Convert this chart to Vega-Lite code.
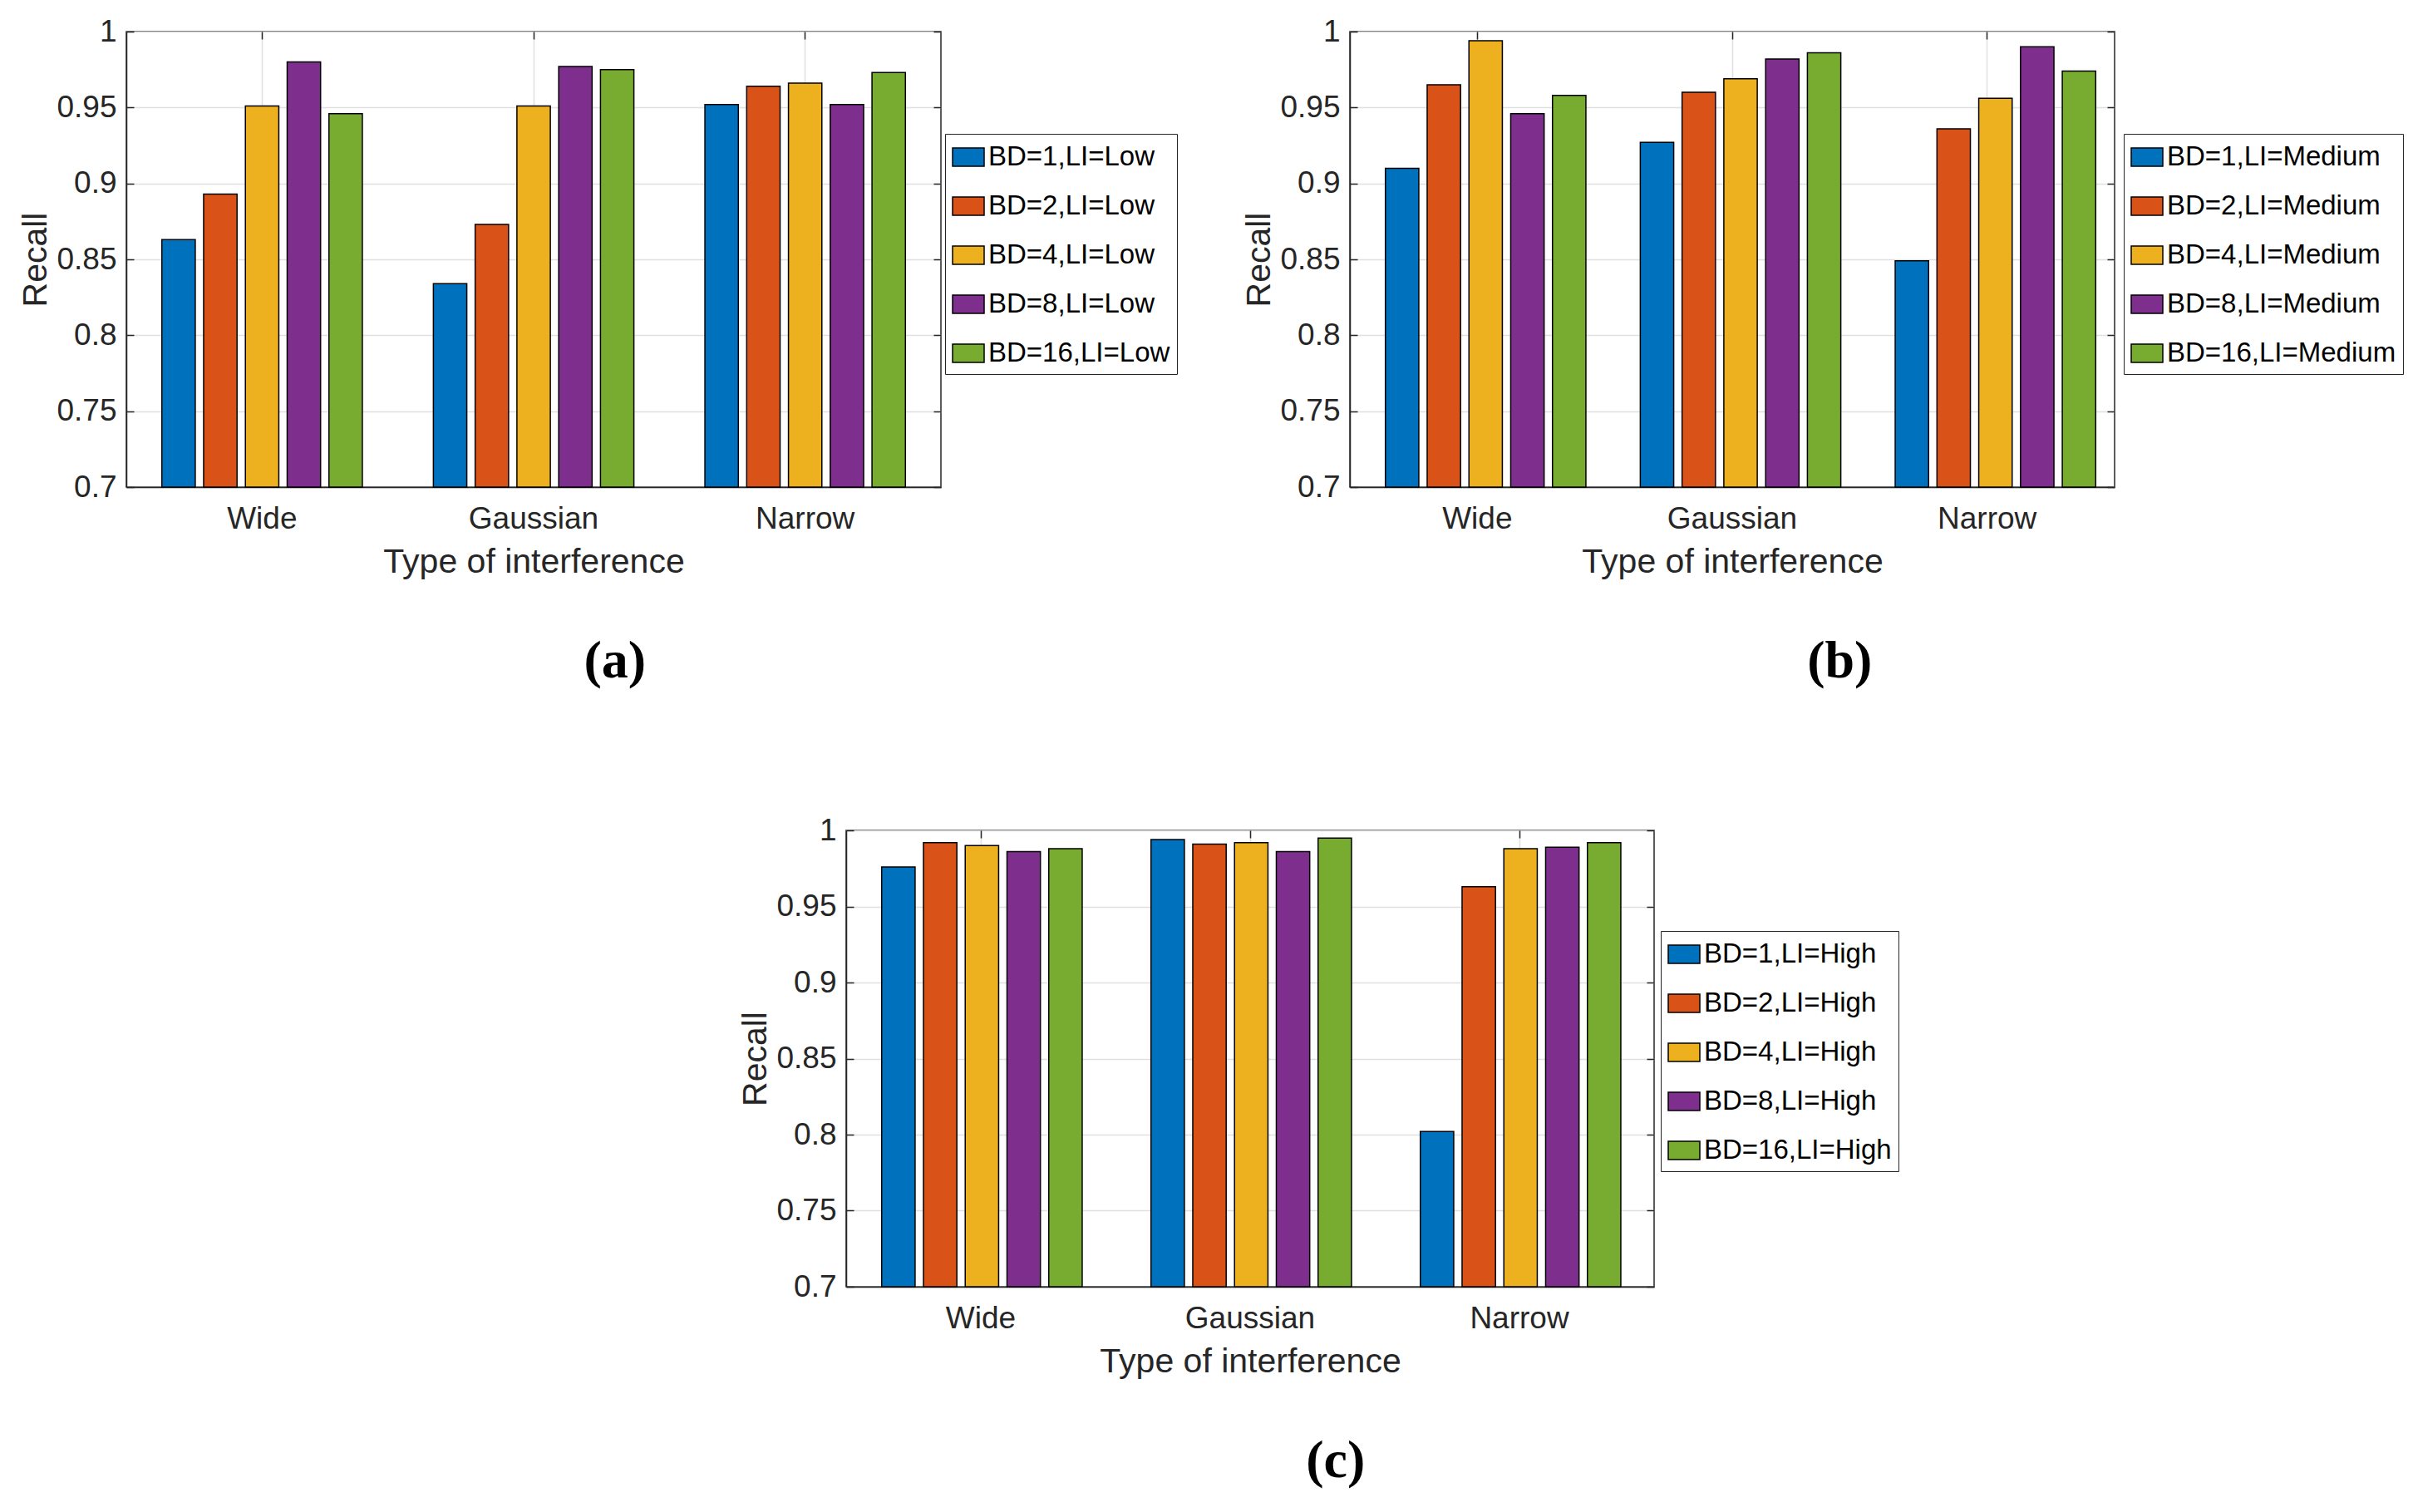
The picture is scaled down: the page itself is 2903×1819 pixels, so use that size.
{
  "$schema": "https://vega.github.io/schema/vega-lite/v6.json",
  "description": "Recall by type of interference for three interference levels (a) Low, (b) Medium, (c) High.",
  "background": "white",
  "padding": {"left": 22, "top": 18, "right": 0, "bottom": 0},
  "datasets": {
    "recall": [
      {"panel": "a", "type": "Wide", "bd": 1, "series": "BD=1,LI=Low", "recall": 0.863},
      {"panel": "a", "type": "Wide", "bd": 2, "series": "BD=2,LI=Low", "recall": 0.893},
      {"panel": "a", "type": "Wide", "bd": 4, "series": "BD=4,LI=Low", "recall": 0.951},
      {"panel": "a", "type": "Wide", "bd": 8, "series": "BD=8,LI=Low", "recall": 0.980},
      {"panel": "a", "type": "Wide", "bd": 16, "series": "BD=16,LI=Low", "recall": 0.946},
      {"panel": "a", "type": "Gaussian", "bd": 1, "series": "BD=1,LI=Low", "recall": 0.834},
      {"panel": "a", "type": "Gaussian", "bd": 2, "series": "BD=2,LI=Low", "recall": 0.873},
      {"panel": "a", "type": "Gaussian", "bd": 4, "series": "BD=4,LI=Low", "recall": 0.951},
      {"panel": "a", "type": "Gaussian", "bd": 8, "series": "BD=8,LI=Low", "recall": 0.977},
      {"panel": "a", "type": "Gaussian", "bd": 16, "series": "BD=16,LI=Low", "recall": 0.975},
      {"panel": "a", "type": "Narrow", "bd": 1, "series": "BD=1,LI=Low", "recall": 0.952},
      {"panel": "a", "type": "Narrow", "bd": 2, "series": "BD=2,LI=Low", "recall": 0.964},
      {"panel": "a", "type": "Narrow", "bd": 4, "series": "BD=4,LI=Low", "recall": 0.966},
      {"panel": "a", "type": "Narrow", "bd": 8, "series": "BD=8,LI=Low", "recall": 0.952},
      {"panel": "a", "type": "Narrow", "bd": 16, "series": "BD=16,LI=Low", "recall": 0.973},
      {"panel": "b", "type": "Wide", "bd": 1, "series": "BD=1,LI=Medium", "recall": 0.910},
      {"panel": "b", "type": "Wide", "bd": 2, "series": "BD=2,LI=Medium", "recall": 0.965},
      {"panel": "b", "type": "Wide", "bd": 4, "series": "BD=4,LI=Medium", "recall": 0.994},
      {"panel": "b", "type": "Wide", "bd": 8, "series": "BD=8,LI=Medium", "recall": 0.946},
      {"panel": "b", "type": "Wide", "bd": 16, "series": "BD=16,LI=Medium", "recall": 0.958},
      {"panel": "b", "type": "Gaussian", "bd": 1, "series": "BD=1,LI=Medium", "recall": 0.927},
      {"panel": "b", "type": "Gaussian", "bd": 2, "series": "BD=2,LI=Medium", "recall": 0.960},
      {"panel": "b", "type": "Gaussian", "bd": 4, "series": "BD=4,LI=Medium", "recall": 0.969},
      {"panel": "b", "type": "Gaussian", "bd": 8, "series": "BD=8,LI=Medium", "recall": 0.982},
      {"panel": "b", "type": "Gaussian", "bd": 16, "series": "BD=16,LI=Medium", "recall": 0.986},
      {"panel": "b", "type": "Narrow", "bd": 1, "series": "BD=1,LI=Medium", "recall": 0.849},
      {"panel": "b", "type": "Narrow", "bd": 2, "series": "BD=2,LI=Medium", "recall": 0.936},
      {"panel": "b", "type": "Narrow", "bd": 4, "series": "BD=4,LI=Medium", "recall": 0.956},
      {"panel": "b", "type": "Narrow", "bd": 8, "series": "BD=8,LI=Medium", "recall": 0.990},
      {"panel": "b", "type": "Narrow", "bd": 16, "series": "BD=16,LI=Medium", "recall": 0.974},
      {"panel": "c", "type": "Wide", "bd": 1, "series": "BD=1,LI=High", "recall": 0.976},
      {"panel": "c", "type": "Wide", "bd": 2, "series": "BD=2,LI=High", "recall": 0.992},
      {"panel": "c", "type": "Wide", "bd": 4, "series": "BD=4,LI=High", "recall": 0.990},
      {"panel": "c", "type": "Wide", "bd": 8, "series": "BD=8,LI=High", "recall": 0.986},
      {"panel": "c", "type": "Wide", "bd": 16, "series": "BD=16,LI=High", "recall": 0.988},
      {"panel": "c", "type": "Gaussian", "bd": 1, "series": "BD=1,LI=High", "recall": 0.994},
      {"panel": "c", "type": "Gaussian", "bd": 2, "series": "BD=2,LI=High", "recall": 0.991},
      {"panel": "c", "type": "Gaussian", "bd": 4, "series": "BD=4,LI=High", "recall": 0.992},
      {"panel": "c", "type": "Gaussian", "bd": 8, "series": "BD=8,LI=High", "recall": 0.986},
      {"panel": "c", "type": "Gaussian", "bd": 16, "series": "BD=16,LI=High", "recall": 0.995},
      {"panel": "c", "type": "Narrow", "bd": 1, "series": "BD=1,LI=High", "recall": 0.802},
      {"panel": "c", "type": "Narrow", "bd": 2, "series": "BD=2,LI=High", "recall": 0.963},
      {"panel": "c", "type": "Narrow", "bd": 4, "series": "BD=4,LI=High", "recall": 0.988},
      {"panel": "c", "type": "Narrow", "bd": 8, "series": "BD=8,LI=High", "recall": 0.989},
      {"panel": "c", "type": "Narrow", "bd": 16, "series": "BD=16,LI=High", "recall": 0.992}
    ]
  },
  "spacing": 150,
  "resolve": {"scale": {"color": "independent"}, "legend": {"color": "independent"}},
  "vconcat": [
    {
      "spacing": 76,
      "resolve": {"scale": {"color": "independent"}, "legend": {"color": "independent"}},
      "hconcat": [
        {
          "width": 980,
          "height": 548,
          "data": {"name": "recall"},
          "transform": [{"filter": "datum.panel == 'a'"}],
          "title": {"text": "(a)"},
          "layer": [
            {
              "mark": {"type": "bar", "stroke": "#000", "strokeWidth": 1.5},
              "encoding": {
                "x": {"field": "type", "type": "nominal", "sort": ["Wide", "Gaussian", "Narrow"], "scale": {"paddingInner": 0, "paddingOuter": 0}, "title": "Type of interference"},
                "xOffset": {"field": "bd", "type": "ordinal", "scale": {"paddingInner": 0.2, "paddingOuter": 0.85}},
                "y": {"field": "recall", "type": "quantitative", "scale": {"domain": [0.7, 1], "zero": false, "nice": false}, "title": "Recall", "axis": {"values": [0.7, 0.75, 0.8, 0.85, 0.9, 0.95, 1], "format": "~g"}},
                "y2": {"datum": 0.7},
                "color": {"field": "series", "type": "nominal", "title": null,
                  "scale": {"domain": ["BD=1,LI=Low", "BD=2,LI=Low", "BD=4,LI=Low", "BD=8,LI=Low", "BD=16,LI=Low"], "range": ["#0072BD", "#D95319", "#EDB120", "#7E2F8E", "#77AC30"]},
                  "legend": {"legendX": 985, "legendY": 123}}
              }
            },
            {
              "mark": {"type": "bar", "opacity": 0},
              "encoding": {
                "x": {"field": "type", "type": "nominal", "sort": ["Wide", "Gaussian", "Narrow"], "axis": {"orient": "top", "labels": false, "grid": false, "domain": false, "title": null}},
                "xOffset": {"field": "bd", "type": "ordinal"},
                "y": {"field": "recall", "type": "quantitative", "axis": {"orient": "right", "values": [0.7, 0.75, 0.8, 0.85, 0.9, 0.95, 1], "labels": false, "grid": false, "domain": false, "title": null}},
                "y2": {"datum": 0.7}
              }
            }
          ],
          "resolve": {"axis": {"x": "independent", "y": "independent"}}
        },
        {
          "width": 920,
          "height": 548,
          "data": {"name": "recall"},
          "transform": [{"filter": "datum.panel == 'b'"}],
          "title": {"text": "(b)"},
          "layer": [
            {
              "mark": {"type": "bar", "stroke": "#000", "strokeWidth": 1.5},
              "encoding": {
                "x": {"field": "type", "type": "nominal", "sort": ["Wide", "Gaussian", "Narrow"], "scale": {"paddingInner": 0, "paddingOuter": 0}, "title": "Type of interference"},
                "xOffset": {"field": "bd", "type": "ordinal", "scale": {"paddingInner": 0.215, "paddingOuter": 0.84}},
                "y": {"field": "recall", "type": "quantitative", "scale": {"domain": [0.7, 1], "zero": false, "nice": false}, "title": "Recall", "axis": {"values": [0.7, 0.75, 0.8, 0.85, 0.9, 0.95, 1], "format": "~g"}},
                "y2": {"datum": 0.7},
                "color": {"field": "series", "type": "nominal", "title": null,
                  "scale": {"domain": ["BD=1,LI=Medium", "BD=2,LI=Medium", "BD=4,LI=Medium", "BD=8,LI=Medium", "BD=16,LI=Medium"], "range": ["#0072BD", "#D95319", "#EDB120", "#7E2F8E", "#77AC30"]},
                  "legend": {"legendX": 931, "legendY": 123}}
              }
            },
            {
              "mark": {"type": "bar", "opacity": 0},
              "encoding": {
                "x": {"field": "type", "type": "nominal", "sort": ["Wide", "Gaussian", "Narrow"], "axis": {"orient": "top", "labels": false, "grid": false, "domain": false, "title": null}},
                "xOffset": {"field": "bd", "type": "ordinal"},
                "y": {"field": "recall", "type": "quantitative", "axis": {"orient": "right", "values": [0.7, 0.75, 0.8, 0.85, 0.9, 0.95, 1], "labels": false, "grid": false, "domain": false, "title": null}},
                "y2": {"datum": 0.7}
              }
            }
          ],
          "resolve": {"axis": {"x": "independent", "y": "independent"}}
        }
      ]
    },
    {
      "spacing": 0,
      "resolve": {"scale": {"color": "independent"}, "legend": {"color": "independent"}},
      "hconcat": [
        {
          "width": 736,
          "height": 50,
          "view": {"stroke": null},
          "data": {"values": []},
          "mark": "point"
        },
        {
          "width": 972,
          "height": 549,
          "data": {"name": "recall"},
          "transform": [{"filter": "datum.panel == 'c'"}],
          "title": {"text": "(c)"},
          "layer": [
            {
              "mark": {"type": "bar", "stroke": "#000", "strokeWidth": 1.5},
              "encoding": {
                "x": {"field": "type", "type": "nominal", "sort": ["Wide", "Gaussian", "Narrow"], "scale": {"paddingInner": 0, "paddingOuter": 0}, "title": "Type of interference"},
                "xOffset": {"field": "bd", "type": "ordinal", "scale": {"paddingInner": 0.2, "paddingOuter": 0.83}},
                "y": {"field": "recall", "type": "quantitative", "scale": {"domain": [0.7, 1], "zero": false, "nice": false}, "title": "Recall", "axis": {"values": [0.7, 0.75, 0.8, 0.85, 0.9, 0.95, 1], "format": "~g"}},
                "y2": {"datum": 0.7},
                "color": {"field": "series", "type": "nominal", "title": null,
                  "scale": {"domain": ["BD=1,LI=High", "BD=2,LI=High", "BD=4,LI=High", "BD=8,LI=High", "BD=16,LI=High"], "range": ["#0072BD", "#D95319", "#EDB120", "#7E2F8E", "#77AC30"]},
                  "legend": {"legendX": 980, "legendY": 121}}
              }
            },
            {
              "mark": {"type": "bar", "opacity": 0},
              "encoding": {
                "x": {"field": "type", "type": "nominal", "sort": ["Wide", "Gaussian", "Narrow"], "axis": {"orient": "top", "labels": false, "grid": false, "domain": false, "title": null}},
                "xOffset": {"field": "bd", "type": "ordinal"},
                "y": {"field": "recall", "type": "quantitative", "axis": {"orient": "right", "values": [0.7, 0.75, 0.8, 0.85, 0.9, 0.95, 1], "labels": false, "grid": false, "domain": false, "title": null}},
                "y2": {"datum": 0.7}
              }
            }
          ],
          "resolve": {"axis": {"x": "independent", "y": "independent"}}
        }
      ]
    }
  ],
  "config": {
    "font": "Liberation Sans",
    "view": {"stroke": "#262626", "strokeWidth": 1.5},
    "axis": {
      "labelFontSize": 37,
      "titleFontSize": 41,
      "labelColor": "#262626",
      "titleColor": "#262626",
      "titleFontWeight": "normal",
      "domainColor": "#262626",
      "domainWidth": 1.5,
      "grid": true,
      "gridColor": "#e0e0e0",
      "gridWidth": 1.5,
      "ticks": true,
      "tickSize": -9,
      "tickColor": "#262626",
      "tickWidth": 1.5
    },
    "axisX": {"labelAngle": 0, "labelPadding": 29, "titlePadding": 14},
    "axisY": {"labelPadding": 21, "titlePadding": 3},
    "legend": {
      "orient": "none",
      "labelFontSize": 33,
      "labelColor": "#000",
      "labelLimit": 600,
      "labelOffset": 4,
      "strokeColor": "#262626",
      "fillColor": "#ffffff",
      "padding": 8,
      "rowPadding": 22,
      "symbolType": "M-1,-0.58H1V0.58H-1Z",
      "symbolSize": 1444,
      "symbolStrokeColor": "#000",
      "symbolStrokeWidth": 1.5,
      "symbolOpacity": 1
    },
    "title": {
      "orient": "bottom",
      "anchor": "middle",
      "frame": "bounds",
      "offset": 68,
      "dx": 20,
      "font": "Liberation Serif",
      "fontSize": 64,
      "fontWeight": "bold",
      "color": "#000"
    }
  }
}
